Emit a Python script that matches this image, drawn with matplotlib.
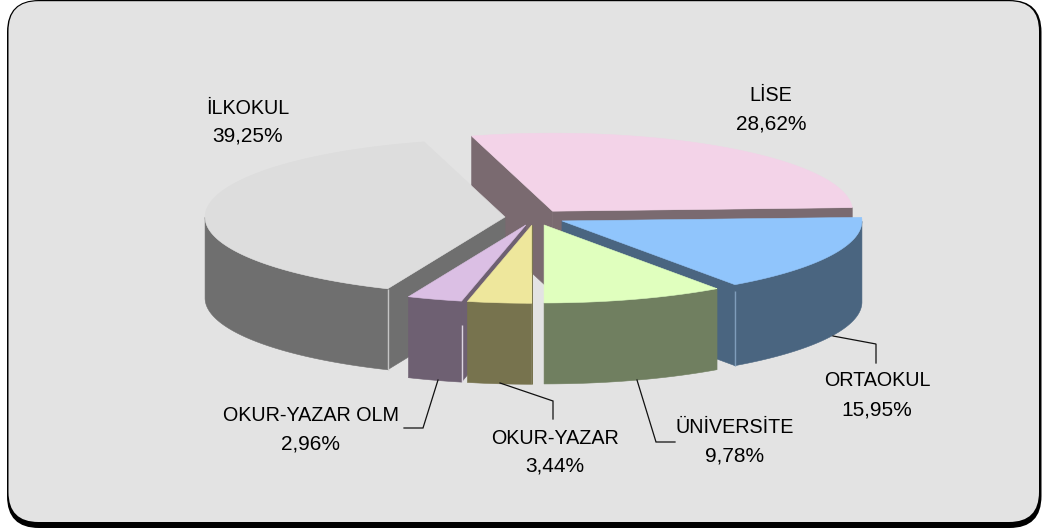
import numpy as np
import matplotlib
matplotlib.use("Agg")
import matplotlib.pyplot as plt
from matplotlib.patches import FancyBboxPatch, Polygon

# ---- data (counter-clockwise from the 6 o'clock position) ----
categories = ["ÜNİVERSİTE", "ORTAOKUL", "LİSE", "İLKOKUL", "OKUR-YAZAR OLM", "OKUR-YAZAR"]
values = [9.78, 15.95, 28.62, 39.25, 2.96, 3.44]
top_colors = ["#E0FFBE", "#90C5FC", "#F3D3E8", "#DDDDDD", "#DBBFE4", "#EEE79C"]
side_colors = ["#707F60", "#4A6580", "#7A6A70", "#6F6F6F", "#6E6072", "#77734E"]
paint_order = ["LİSE", "İLKOKUL", "ORTAOKUL", "ÜNİVERSİTE", "OKUR-YAZAR OLM", "OKUR-YAZAR"]
seam_colors = {"ORTAOKUL": "#7F9DBB", "İLKOKUL": "#C4C4C4", "OKUR-YAZAR OLM": "#DCD4E0"}

# ---- layout ----
W, H = 1042, 529
CX, CY = 535.0, 217.5
RX, RY = 300.0, 78.0
DEPTH = 81.0
EXPLODE = 0.10
START = 270.0

# x centre, name baseline, value baseline
label_pos = {
    "İLKOKUL": (248, 114, 142), "LİSE": (771, 101, 129), "ORTAOKUL": (877, 386, 416),
    "ÜNİVERSİTE": (735, 433, 461), "OKUR-YAZAR": (555, 444, 472), "OKUR-YAZAR OLM": (311, 421, 449),
}
leaders = [
    ([438, 423, 404], [380, 428, 428]),
    ([500, 553, 553], [383, 401, 419]),
    ([637, 656, 675], [380, 442, 442]),
    ([833, 876, 876], [336, 344, 363]),
]

fig = plt.figure(figsize=(W / 100, H / 100), dpi=100, facecolor="white")
ax = fig.add_axes([0, 0, 1, 1])
ax.set_xlim(0, W)
ax.set_ylim(H, 0)
ax.axis("off")


def rounded(x0, y0, x1, y1, r, color, z):
    ax.add_patch(FancyBboxPatch((x0 + r, y0 + r), x1 - x0 - 2 * r, y1 - y0 - 2 * r,
                                boxstyle=f"round,pad={r},rounding_size={r}",
                                fc=color, ec="none", zorder=z))


rounded(7, 0, 1041.5, 528, 32, "#000000", 0)
rounded(8.5, 1.2, 1039, 522, 30, "#E3E3E3", 1)

# ---- wedge angles ----
sweeps = 360.0 * np.array(values) / sum(values)
ends = START + np.cumsum(sweeps)
starts = ends - sweeps


def project(th_deg, ox, oy):
    t = np.radians(th_deg)
    return ox + RX * np.cos(t), oy - RY * np.sin(t)


z = 2
for name in paint_order:
    i = categories.index(name)
    a0, a1 = starts[i], ends[i]
    mid_deg = (a0 + a1) / 2
    mid = np.radians(mid_deg)
    ox = CX + EXPLODE * RX * np.cos(mid)
    oy = CY - EXPLODE * RY * np.sin(mid)
    th = np.linspace(a0, a1, 200)
    xs, ys = project(th, ox, oy)
    top = np.column_stack([np.r_[ox, xs], np.r_[oy, ys]])
    side, topc = side_colors[i], top_colors[i]
    mx, my = project(mid_deg, ox, oy)
    # radial faces: only those turned towards the viewer
    for a in (a0, a1):
        x, y = project(a, ox, oy)
        ex, ey = x - ox, y - oy
        inner = ex * (my - oy) - ey * (mx - ox)
        down = ex * 1.0
        if inner * down < 0:
            ax.add_patch(Polygon([(ox, oy), (x, y), (x, y + DEPTH), (ox, oy + DEPTH)],
                                 fc=side, ec=side, lw=0.4, zorder=z))
    # outer wall: only the part facing the viewer
    front = np.sin(np.radians(th)) <= 0.0
    if front.sum() > 1:
        fx, fy = xs[front], ys[front]
        ax.add_patch(Polygon(np.column_stack([np.r_[fx, fx[::-1]],
                                              np.r_[fy, fy[::-1] + DEPTH]]),
                             fc=side, ec=side, lw=0.4, zorder=z))
    # seam where the radial face meets the outer wall
    if name in seam_colors:
        seam_angle = a0 if name == "ORTAOKUL" else a1
        sx, sy = project(seam_angle, ox, oy)
        lead = 0.0 if name == "İLKOKUL" else (0.08 if name == "ORTAOKUL" else 0.30)
        ax.plot([sx, sx], [sy + lead * DEPTH, sy + DEPTH], color=seam_colors[name],
                lw=1.0, zorder=z, solid_capstyle="butt")
    ax.add_patch(Polygon(top, fc=topc, ec=topc, lw=0.4, zorder=z))
    z += 1

# ---- leaders and labels ----
for lx, ly in leaders:
    ax.plot(lx, ly, color="#111111", lw=0.9, zorder=z, solid_joinstyle="miter")

for cat, val in zip(categories, values):
    x, y_name, y_val = label_pos[cat]
    ax.text(x, y_name, cat, ha="center", va="baseline", fontsize=14.2,
            family="Liberation Sans", color="#000000", zorder=z + 1)
    ax.text(x, y_val, f"{val:.2f}%".replace(".", ","), ha="center", va="baseline", fontsize=15,
            family="Liberation Sans", color="#000000", zorder=z + 1)

fig.savefig("out.png", dpi=100, facecolor="white")
